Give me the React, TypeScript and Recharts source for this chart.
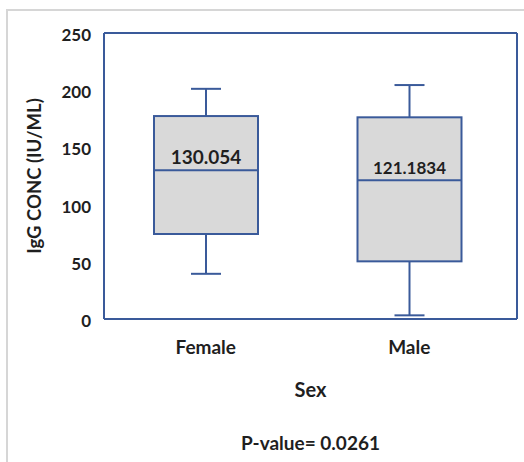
import React from "react";
import { ComposedChart, Bar, XAxis, YAxis, Label } from "recharts";

const categories = ["Female", "Male"];
const minValues = [39.5, 3.2];
const q1Values = [74.3, 50.4];
const medianValues = [130.054, 121.1834];
const q3Values = [177.4, 176.3];
const maxValues = [201.2, 204.5];
const medianLabels = ["130.054", "121.1834"];
const medianLabelSizes = [19, 17];
const yTicks = [0, 50, 100, 150, 200, 250];

const data = categories.map((name, i) => ({
  name,
  min: minValues[i],
  q1: q1Values[i],
  median: medianValues[i],
  q3: q3Values[i],
  max: maxValues[i],
  label: medianLabels[i],
  labelSize: medianLabelSizes[i],
  box: [q1Values[i], q3Values[i]],
}));

const BLUE = "#3a5a9a";
const FONT = "Lato, 'Open Sans', sans-serif";
const TEXT = "#1f1f1f";

const BoxShape = (props: any) => {
  const { x, y, width, height, payload } = props;
  const top = Math.min(y, y + height);
  const h = Math.abs(height);
  const { min, q1, median, q3, max, label, labelSize } = payload;
  const k = h / (q3 - q1);
  const cx = x + width / 2;
  const yMax = top - (max - q3) * k;
  const yMin = top + h + (q1 - min) * k;
  const yMed = top + (q3 - median) * k;
  const cap = 15;
  return (
    <g>
      <line x1={cx} x2={cx} y1={yMax} y2={top} stroke={BLUE} strokeWidth={2} />
      <line x1={cx - cap} x2={cx + cap} y1={yMax} y2={yMax} stroke={BLUE} strokeWidth={2} />
      <line x1={cx} x2={cx} y1={top + h} y2={yMin} stroke={BLUE} strokeWidth={2} />
      <line x1={cx - cap} x2={cx + cap} y1={yMin} y2={yMin} stroke={BLUE} strokeWidth={2} />
      <rect x={x} y={top} width={width} height={h} fill="#d9d9d9" stroke={BLUE} strokeWidth={2} />
      <line x1={x} x2={x + width} y1={yMed} y2={yMed} stroke={BLUE} strokeWidth={2} />
      <text
        x={cx}
        y={yMed - 6}
        textAnchor="middle"
        fontFamily={FONT}
        fontWeight={700}
        fontSize={labelSize}
        fill={TEXT}
      >
        {label}
      </text>
    </g>
  );
};

export default function App() {
  return (
    <div style={{ position: "absolute", left: 0, top: 0, width: 524, height: 462, background: "#fff" }}>
      <div
        style={{
          position: "absolute",
          left: 6,
          top: 9,
          width: 518,
          height: 453,
          borderTop: "2px solid #d6d6d6",
          borderLeft: "2px solid #d6d6d6",
          boxSizing: "border-box",
        }}
      />
      <div style={{ position: "absolute", left: 0, top: 0 }}>
        <ComposedChart
          width={524}
          height={462}
          data={data}
          margin={{ top: 32, right: 6, bottom: 0, left: 0 }}
        >
          <XAxis
            dataKey="name"
            height={143}
            padding={{ left: 0, right: 6 }}
            axisLine={{ stroke: BLUE, strokeWidth: 2 }}
            tickLine={false}
            tickSize={0}
            tickMargin={22}
            tick={{ fontFamily: FONT, fontWeight: 700, fontSize: 19, fill: TEXT }}
          >
            <Label
              value="Sex"
              position="insideTop"
              offset={64}
              style={{ fontFamily: FONT, fontWeight: 700, fontSize: 20, fill: TEXT }}
            />
            <Label
              value="P-value= 0.0261"
              position="insideTop"
              offset={118}
              style={{ fontFamily: FONT, fontWeight: 700, fontSize: 19, fill: TEXT }}
            />
          </XAxis>
          <XAxis
            xAxisId="top"
            orientation="top"
            dataKey="name"
            height={1}
            tick={false}
            tickLine={false}
            axisLine={{ stroke: BLUE, strokeWidth: 2 }}
          />
          <YAxis
            width={104}
            domain={[0, 250]}
            ticks={yTicks}
            axisLine={{ stroke: BLUE, strokeWidth: 2 }}
            tickLine={false}
            tickSize={0}
            tickMargin={13}
            tick={{ fontFamily: FONT, fontWeight: 700, fontSize: 17, fill: TEXT, dy: 2 }}
          >
            <Label
              value="IgG CONC (IU/ML)"
              angle={-90}
              position="insideLeft"
              offset={37}
              dx={-3}
              style={{ textAnchor: "middle", fontFamily: FONT, fontWeight: 700, fontSize: 18.5, fill: TEXT }}
            />
          </YAxis>
          <YAxis
            yAxisId="right"
            orientation="right"
            width={1}
            domain={[0, 250]}
            tick={false}
            tickLine={false}
            axisLine={{ stroke: BLUE, strokeWidth: 2 }}
          />
          <Bar dataKey="box" barSize={104} shape={BoxShape} isAnimationActive={false} />
        </ComposedChart>
      </div>
    </div>
  );
}
